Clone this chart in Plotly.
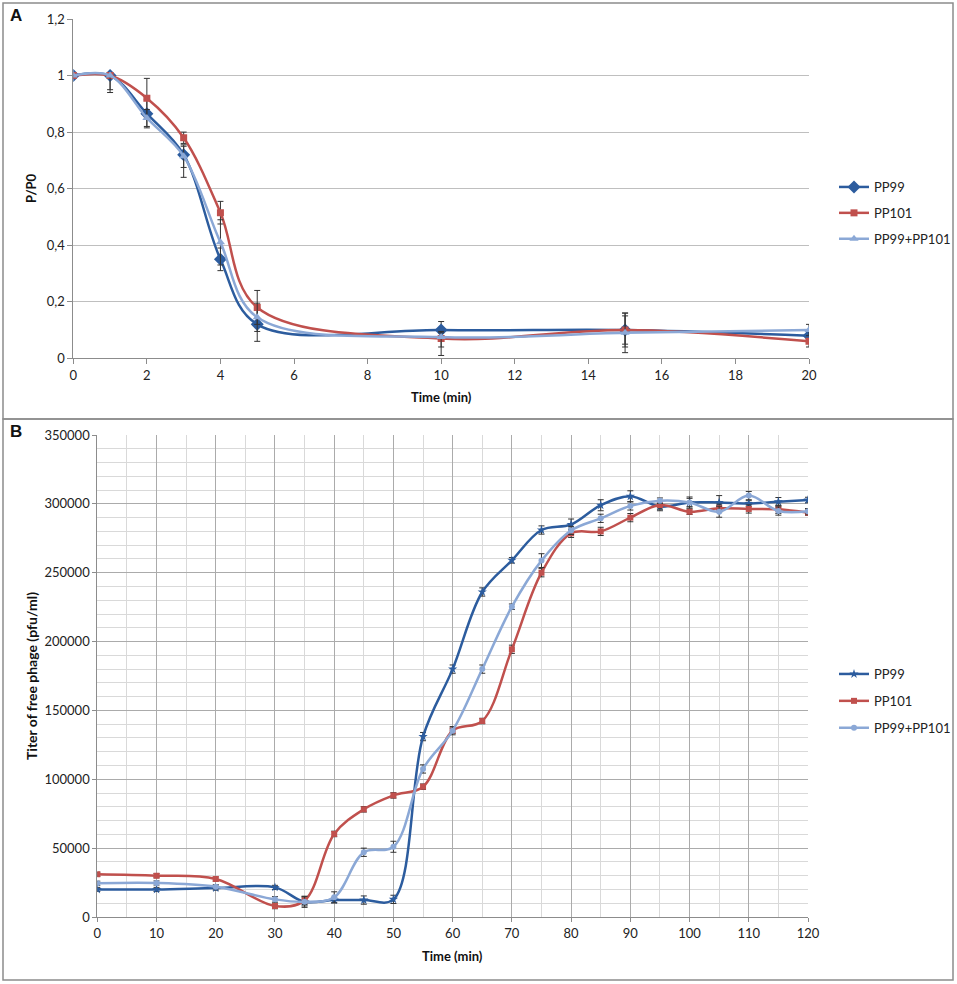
import plotly.graph_objects as go

# ---------------- Panel A data ----------------
time_a = [0, 1, 2, 3, 4, 5, 10, 15, 20]
pp99_a = [1.0, 1.0, 0.865, 0.72, 0.35, 0.12, 0.10, 0.10, 0.08]
pp99_a_plus = [0, 0, 0.05, 0.03, 0.04, 0.06, 0.03, 0.05, 0.01]
pp99_a_minus = [0, 0.05, 0.05, 0.08, 0.04, 0.06, 0.03, 0.05, 0.01]
pp101_a = [1.0, 1.0, 0.92, 0.78, 0.515, 0.18, 0.07, 0.10, 0.06]
pp101_a_plus = [0, 0, 0.07, 0.02, 0.04, 0.06, 0.02, 0.06, 0.01]
pp101_a_minus = [0, 0, 0.07, 0.02, 0.04, 0.06, 0.03, 0.06, 0.02]
mix_a = [1.0, 1.0, 0.85, 0.715, 0.41, 0.145, 0.075, 0.09, 0.10]
mix_a_plus = [0, 0, 0.03, 0.04, 0.08, 0.05, 0.02, 0.07, 0.02]
mix_a_minus = [0, 0.06, 0.03, 0.04, 0.08, 0.05, 0.065, 0.07, 0.02]
xticks_a = [0, 2, 4, 6, 8, 10, 12, 14, 16, 18, 20]
yticks_a = [0, 0.2, 0.4, 0.6, 0.8, 1.0, 1.2]
yticklabels_a = ["0", "0,2", "0,4", "0,6", "0,8", "1", "1,2"]

# ---------------- Panel B data ----------------
time_b = [0, 10, 20, 30, 35, 40, 45, 50, 55, 60, 65, 70, 75, 80, 85, 90, 95, 100, 105, 110, 115, 120]
pp99_b = [20000, 20000, 21000, 21500, 11000, 12300, 12300, 12800, 131000, 180000, 236000, 259000,
          281000, 285000, 299000, 305500, 298000, 301000, 301000, 300300, 301600, 302800]
pp99_b_err = [1500, 1500, 1500, 1500, 3000, 2000, 3000, 3000, 3000, 3000, 3000, 2000,
              3000, 4000, 4000, 4000, 3000, 3000, 5000, 2000, 3000, 2000]
pp101_b = [31000, 30000, 27600, 8000, 12000, 60300, 78200, 88300, 94600, 135300, 142300, 194400,
           250000, 278600, 280000, 290000, 299200, 294300, 296800, 296300, 296000, 293600]
pp101_b_err = [1500, 1500, 1500, 2000, 3000, 2000, 2000, 2000, 2000, 2000, 2000, 3000,
               3000, 3000, 3000, 3000, 3000, 2000, 3000, 3000, 3000, 2000]
mix_b = [24500, 24700, 22000, 12800, 11000, 14300, 47000, 51000, 107500, 135300, 180000, 225300,
         258800, 280700, 289500, 298500, 302300, 301000, 294300, 306000, 294800, 294600]
mix_b_err = [1500, 1500, 1500, 2000, 4000, 4000, 3000, 4000, 3000, 3000, 3000, 2000,
             5000, 3000, 3000, 3000, 2000, 4000, 4000, 3000, 3000, 2000]
xticks_b = [0, 10, 20, 30, 40, 50, 60, 70, 80, 90, 100, 110, 120]
yticks_b = [0, 50000, 100000, 150000, 200000, 250000, 300000, 350000]
yticklabels_b = [str(v) for v in yticks_b]

series_names = ["PP99", "PP101", "PP99+PP101"]

# ---------------- styling ----------------
W, H = 957, 984
C_DARK = "#2C5C9E"
C_RED = "#C0504D"
C_LIGHT = "#8BA8D6"
AXIS_C = "#8C8C8C"
FONT = "Lato"


def px_x(p):
    return p / W


def px_y(p):
    return 1 - p / H


fig = go.Figure()


def add_a(x, y, plus, minus, name, color, symbol, size):
    fig.add_trace(go.Scatter(
        x=x, y=y, name=name, mode="lines+markers",
        line=dict(color=color, width=2.5, shape="spline", smoothing=1.0),
        marker=dict(symbol=symbol, size=size, color=color),
        error_y=dict(type="data", array=plus, arrayminus=minus, symmetric=False,
                     color="#333333", thickness=1, width=3),
        xaxis="x", yaxis="y", legend="legend", legendgroup=name + "a",
    ))


def add_b(x, y, err, name, color, symbol, size):
    fig.add_trace(go.Scatter(
        x=x, y=y, name=name, mode="lines+markers",
        line=dict(color=color, width=2.5, shape="spline", smoothing=1.0),
        marker=dict(symbol=symbol, size=size, color=color),
        error_y=dict(type="data", array=err, color="#333333", thickness=1, width=3),
        xaxis="x2", yaxis="y2", legend="legend2", legendgroup=name + "b",
    ))


add_a(time_a, pp99_a, pp99_a_plus, pp99_a_minus, series_names[0], C_DARK, "diamond", 10)
add_a(time_a, pp101_a, pp101_a_plus, pp101_a_minus, series_names[1], C_RED, "square", 7)
add_a(time_a, mix_a, mix_a_plus, mix_a_minus, series_names[2], C_LIGHT, "triangle-up", 8)

add_b(time_b, pp99_b, pp99_b_err, series_names[0], C_DARK, "star", 7)
add_b(time_b, pp101_b, pp101_b_err, series_names[1], C_RED, "square", 6)
add_b(time_b, mix_b, mix_b_err, series_names[2], C_LIGHT, "circle", 6)

tickfont = dict(family=FONT, size=13, color="#222222")

fig.update_layout(
    width=W, height=H,
    margin=dict(l=0, r=0, t=0, b=0, autoexpand=False),
    paper_bgcolor="white", plot_bgcolor="white",
    font=dict(family=FONT, size=12, color="#222222"),
    xaxis=dict(domain=[px_x(73.3), px_x(809)], range=[0, 20], tickvals=xticks_a,
               showgrid=False, zeroline=False, showline=True, linecolor=AXIS_C, linewidth=1,
               ticks="outside", ticklen=5, tickcolor=AXIS_C, tickfont=tickfont, anchor="y",
               automargin=False),
    yaxis=dict(domain=[px_y(358.3), px_y(19)], range=[0, 1.2], tickvals=yticks_a,
               ticktext=yticklabels_a, showgrid=True, gridcolor="#BFBFBF", gridwidth=1,
               zeroline=False, showline=True, linecolor=AXIS_C, linewidth=1,
               ticks="outside", ticklen=5, tickcolor=AXIS_C, tickfont=tickfont, anchor="x",
               automargin=False),
    xaxis2=dict(domain=[px_x(97.3), px_x(808)], range=[0, 120], tickvals=xticks_b,
                showgrid=True, gridcolor="#ABABAB", gridwidth=1,
                minor=dict(dtick=5, tick0=0, showgrid=True, gridcolor="#D9D9D9", gridwidth=1, ticks=""),
                zeroline=False, showline=True, linecolor=AXIS_C, linewidth=1,
                ticks="outside", ticklen=4, tickcolor=AXIS_C, tickfont=tickfont, anchor="y2",
                automargin=False),
    yaxis2=dict(domain=[px_y(917), px_y(435)], range=[0, 350000], tickvals=yticks_b,
                ticktext=yticklabels_b, showgrid=True, gridcolor="#ABABAB", gridwidth=1,
                minor=dict(dtick=10000, tick0=0, showgrid=True, gridcolor="#D9D9D9", gridwidth=1, ticks=""),
                zeroline=False, showline=True, linecolor=AXIS_C, linewidth=1,
                ticks="outside", ticklen=4, tickcolor=AXIS_C, tickfont=tickfont, anchor="x2",
                automargin=False),
    legend=dict(x=px_x(834), y=px_y(172), xanchor="left", yanchor="top",
                font=dict(family=FONT, size=13, color="#222222"),
                tracegroupgap=6, bgcolor="rgba(0,0,0,0)", itemwidth=30),
    legend2=dict(x=px_x(834), y=px_y(659), xanchor="left", yanchor="top",
                 font=dict(family=FONT, size=13, color="#222222"),
                 tracegroupgap=7, bgcolor="rgba(0,0,0,0)", itemwidth=30),
    shapes=[
        dict(type="rect", xref="paper", yref="paper", x0=px_x(3), x1=px_x(953),
             y0=px_y(419), y1=px_y(3), line=dict(color=AXIS_C, width=1.5)),
        dict(type="rect", xref="paper", yref="paper", x0=px_x(3), x1=px_x(953),
             y0=px_y(980), y1=px_y(419), line=dict(color=AXIS_C, width=1.5)),
    ],
    annotations=[
        dict(text="<b>A</b>", x=px_x(8), y=px_y(15), xref="paper", yref="paper",
             xanchor="left", yanchor="middle", showarrow=False,
             font=dict(family="Liberation Sans", size=17, color="#111111")),
        dict(text="<b>B</b>", x=px_x(8), y=px_y(432), xref="paper", yref="paper",
             xanchor="left", yanchor="middle", showarrow=False,
             font=dict(family="Liberation Sans", size=17, color="#111111")),
        dict(text="<b>Time (min)</b>", x=px_x(441), y=px_y(397), xref="paper", yref="paper",
             xanchor="center", yanchor="middle", showarrow=False,
             font=dict(family=FONT, size=13, color="#111111")),
        dict(text="<b>P/P0</b>", x=px_x(31), y=px_y(188), xref="paper", yref="paper",
             xanchor="center", yanchor="middle", showarrow=False, textangle=-90,
             font=dict(family=FONT, size=13, color="#111111")),
        dict(text="<b>Time (min)</b>", x=px_x(452), y=px_y(956), xref="paper", yref="paper",
             xanchor="center", yanchor="middle", showarrow=False,
             font=dict(family=FONT, size=13, color="#111111")),
        dict(text="<b>Titer of free phage (pfu/ml)</b>", x=px_x(31), y=px_y(676), xref="paper",
             yref="paper", xanchor="center", yanchor="middle", showarrow=False, textangle=-90,
             font=dict(family=FONT, size=14, color="#111111")),
    ],
)

fig.write_html(
    "out.html",
    config={"displayModeBar": False},
    post_script="document.body.style.margin='0';document.body.style.overflow='hidden';",
)
